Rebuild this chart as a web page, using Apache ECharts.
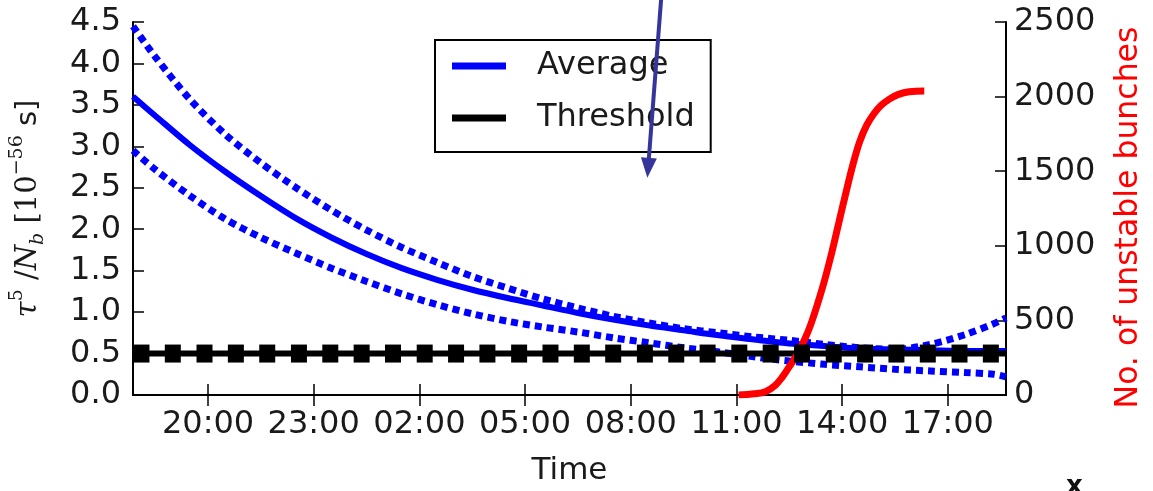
<!DOCTYPE html>
<html><head><meta charset="utf-8">
<script src="https://cdn.jsdelivr.net/npm/echarts@6/dist/echarts.min.js"></script>
<style>html,body{margin:0;padding:0;background:#fff}#c{width:1153px;height:491px}</style>
</head><body><div id="c"></div>
<script>
// x values are hours since 00:00 of the first day
const xMin = 17.87, xMax = 42.65;
const xTickHours = [20, 23, 26, 29, 32, 35, 38, 41];
const yLeftTicks = { min: 0, max: 4.5, step: 0.5 };
const yRightTicks = { min: 0, max: 2500, step: 500 };

const blueTimes = [17.87, 18.5, 19.5, 20.5, 21.5, 22.5, 23.5, 24.5, 25.5, 26.5, 27.5, 28.5, 29.5, 30.5, 31.5, 32.5, 33.5, 34.5, 35.5, 36.5, 37.5, 38.5, 39.5, 40.5, 41.5, 42.3, 42.65];
const averageValues = [3.60, 3.37, 3.01, 2.69, 2.40, 2.13, 1.90, 1.70, 1.53, 1.39, 1.27, 1.17, 1.08, 0.99, 0.91, 0.84, 0.78, 0.72, 0.67, 0.62, 0.59, 0.56, 0.55, 0.54, 0.53, 0.53, 0.53];
const upperValues = [4.45, 4.08, 3.56, 3.14, 2.80, 2.50, 2.23, 1.99, 1.78, 1.60, 1.43, 1.29, 1.16, 1.05, 0.95, 0.87, 0.80, 0.75, 0.70, 0.66, 0.61, 0.57, 0.55, 0.61, 0.73, 0.86, 0.93];
const lowerValues = [2.95, 2.72, 2.40, 2.12, 1.90, 1.71, 1.53, 1.37, 1.22, 1.09, 0.98, 0.89, 0.82, 0.76, 0.69, 0.63, 0.57, 0.52, 0.46, 0.41, 0.37, 0.34, 0.31, 0.29, 0.27, 0.25, 0.22];

const thresholdValue = 0.5;
const thresholdMarkerTimes = [18.11, 19.00, 19.90, 20.79, 21.68, 22.58, 23.47, 24.36, 25.25, 26.15, 27.04, 27.93, 28.83, 29.72, 30.61, 31.50, 32.40, 33.29, 34.18, 35.08, 35.97, 36.86, 37.76, 38.65, 39.54, 40.43, 41.33, 42.22];

const unstableTimes = [35.06, 35.5, 35.82, 36.1, 36.3, 36.5, 36.73, 36.95, 37.12, 37.3, 37.49, 37.7, 37.9, 38.1, 38.3, 38.5, 38.7, 38.9, 39.1, 39.35, 39.6, 39.9, 40.33];
const unstableCounts = [0, 8, 22, 65, 120, 190, 275, 380, 480, 610, 760, 950, 1150, 1350, 1540, 1700, 1810, 1885, 1940, 1985, 2015, 2032, 2037];

// annotation arrow (data coordinates: hours, left-axis value)
const arrowFrom = [32.86, 4.77];
const arrowTo = [32.47, 2.62];

const FONT = 'DejaVu Sans';
const pair = (xs, ys) => xs.map((x, i) => [x, ys[i]]);
const fmtHour = h => String(h % 24).padStart(2, '0') + ':00';

const thresholdData = [{ value: [xMin, thresholdValue], symbol: 'none' }]
  .concat(thresholdMarkerTimes.map(t => [t, thresholdValue]))
  .concat([{ value: [xMax, thresholdValue], symbol: 'none' }]);

const tickStyle = { show: true, inside: true, length: 11, lineStyle: { color: '#000', width: 1.5 } };
const chart = echarts.init(document.getElementById('c'), null, { renderer: 'canvas' });
chart.setOption({
  animation: false,
  backgroundColor: '#fff',
  grid: { left: 127, right: 138, top: 22, bottom: 96 },
  legend: {
    orient: 'vertical', left: 435, top: 40,
    padding: [10, 16, 18, 17],
    itemWidth: 54, itemHeight: 7, itemGap: 20,
    borderColor: '#000', borderWidth: 2, borderRadius: 0,
    backgroundColor: '#fff',
    textStyle: { fontFamily: FONT, fontSize: 32, color: '#1a1a1a', padding: [0, 0, 0, 26], lineHeight: 31 },
    data: [{ name: 'Average', icon: 'rect' }, { name: 'Threshold', icon: 'rect' }]
  },
  xAxis: [{
    type: 'value', min: xMin, max: xMax, position: 'bottom',
    name: 'Time', nameLocation: 'middle', nameGap: 60,
    nameTextStyle: { fontFamily: FONT, fontSize: 31, color: '#1a1a1a' },
    axisLine: { show: true, lineStyle: { color: '#000', width: 2 } },
    axisTick: Object.assign({ customValues: xTickHours }, tickStyle),
    axisLabel: { customValues: xTickHours, formatter: v => fmtHour(v), fontFamily: FONT, fontSize: 32, color: '#1a1a1a', margin: 14 },
    splitLine: { show: false }
  }, {
    type: 'value', min: xMin, max: xMax, position: 'top',
    axisLine: { show: true, lineStyle: { color: '#000', width: 2 } },
    axisTick: Object.assign({ customValues: xTickHours }, tickStyle),
    axisLabel: { show: false }, splitLine: { show: false }
  }],
  yAxis: [{
    type: 'value', min: yLeftTicks.min, max: yLeftTicks.max, interval: yLeftTicks.step, position: 'left',
    name: '{i|τ}{sup|5}{r| /}{i|N}{sub|b}{r| [10}{sup|−56}{s| s]}',
    nameLocation: 'middle', nameGap: 85, nameRotate: 90,
    nameTextStyle: {
      fontFamily: 'DejaVu Serif', fontSize: 29, color: '#1a1a1a',
      rich: {
        i: { fontFamily: 'DejaVu Serif', fontStyle: 'italic', fontSize: 29, lineHeight: 40 },
        r: { fontFamily: 'DejaVu Serif', fontSize: 29, lineHeight: 40 },
        s: { fontFamily: 'DejaVu Sans', fontSize: 29, lineHeight: 40 },
        sup: { fontFamily: 'DejaVu Serif', fontSize: 19, lineHeight: 19, verticalAlign: 'top' },
        sub: { fontFamily: 'DejaVu Serif', fontStyle: 'italic', fontSize: 19, lineHeight: 19, verticalAlign: 'bottom' }
      }
    },
    axisLine: { show: true, lineStyle: { color: '#000', width: 2 } },
    axisTick: tickStyle,
    axisLabel: { formatter: v => v.toFixed(1), fontFamily: FONT, fontSize: 32, color: '#1a1a1a', margin: 12 },
    splitLine: { show: false }
  }, {
    type: 'value', min: yRightTicks.min, max: yRightTicks.max, interval: yRightTicks.step, position: 'right',
    name: 'No. of unstable bunches', nameLocation: 'middle', nameGap: 107, nameRotate: 90,
    nameTextStyle: { fontFamily: FONT, fontSize: 31.5, color: '#ff0000', padding: [0, 18, 0, 0] },
    axisLine: { show: true, lineStyle: { color: '#000', width: 2 } },
    axisTick: tickStyle,
    axisLabel: { formatter: v => String(v), fontFamily: FONT, fontSize: 32, color: '#1a1a1a', margin: 8 },
    splitLine: { show: false }
  }],
  series: [{
    name: 'Upper', type: 'line', xAxisIndex: 0, yAxisIndex: 0, data: pair(blueTimes, upperValues),
    symbol: 'none', smooth: 0.3, silent: true,
    lineStyle: { color: '#0000ff', width: 7, type: [7, 5], cap: 'butt' }
  }, {
    name: 'Lower', type: 'line', xAxisIndex: 0, yAxisIndex: 0, data: pair(blueTimes, lowerValues),
    symbol: 'none', smooth: 0.3, silent: true,
    lineStyle: { color: '#0000ff', width: 7, type: [7, 5], cap: 'butt' }
  }, {
    name: 'Average', type: 'line', xAxisIndex: 0, yAxisIndex: 0, data: pair(blueTimes, averageValues),
    symbol: 'none', smooth: 0.3, itemStyle: { color: '#0000ff' },
    lineStyle: { color: '#0000ff', width: 6 }
  }, {
    name: 'Threshold', type: 'line', xAxisIndex: 0, yAxisIndex: 0, data: thresholdData,
    symbol: 'rect', symbolSize: [16, 18], showAllSymbol: true,
    itemStyle: { color: '#000' }, lineStyle: { color: '#000', width: 6 }
  }, {
    name: 'Unstable', type: 'line', xAxisIndex: 0, yAxisIndex: 1, data: pair(unstableTimes, unstableCounts),
    symbol: 'none', smooth: 0.4, lineStyle: { color: '#ff0000', width: 7 }
  }]
});

// annotation arrow placed from data coordinates
const p1 = chart.convertToPixel({ xAxisIndex: 0, yAxisIndex: 0 }, arrowFrom);
const p2 = chart.convertToPixel({ xAxisIndex: 0, yAxisIndex: 0 }, arrowTo);
const dx = p2[0] - p1[0], dy = p2[1] - p1[1];
const len = Math.hypot(dx, dy), ux = dx / len, uy = dy / len;
const headLen = 20, headHalf = 8;
const bx = p2[0] - ux * headLen, by = p2[1] - uy * headLen;
chart.setOption({
  graphic: [{
    type: 'line', silent: true, z: 100,
    shape: { x1: p1[0], y1: p1[1], x2: bx + ux * 2, y2: by + uy * 2 },
    style: { stroke: '#35359b', lineWidth: 4 }
  }, {
    type: 'polygon', silent: true, z: 100,
    shape: { points: [[p2[0], p2[1]], [bx - uy * headHalf, by + ux * headHalf], [bx + uy * headHalf, by - ux * headHalf]] },
    style: { fill: '#35359b' }
  }, {
    type: 'text', left: 1066, top: 474, silent: true,
    style: { text: 'x', fontFamily: FONT, fontSize: 26, fontWeight: 'bold', fill: '#111' }
  }]
});
</script></body></html>
